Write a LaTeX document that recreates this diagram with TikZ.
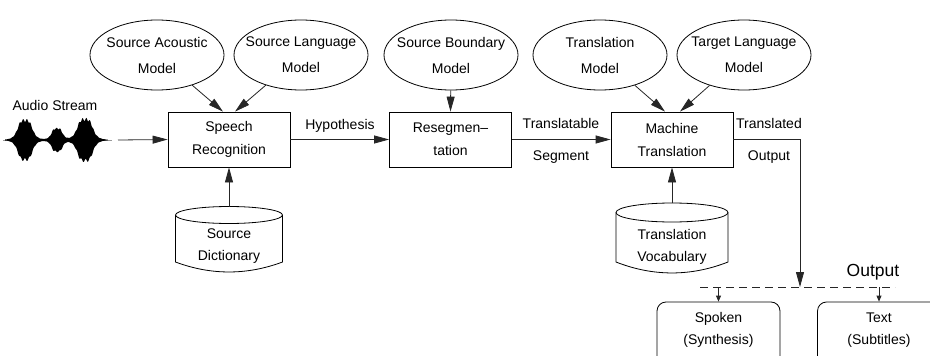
\documentclass[tikz,border=0pt]{standalone}
\usepackage{fontspec}
\setmainfont{Liberation Sans}
\usetikzlibrary{shapes.geometric,arrows.meta,calc}
\begin{document}
\begin{tikzpicture}[x=1pt,y=-1pt,line width=0.8pt,
  model/.style={draw,ellipse,minimum width=134pt,minimum height=70pt,inner sep=0pt},
  mlabel/.style={align=center,font=\fontsize{14}{26}\selectfont,inner sep=0pt},
  proc/.style={draw,rectangle,minimum width=122pt,minimum height=55pt,inner sep=0pt,align=center,font=\fontsize{14}{23}\selectfont},
  cyltext/.style={align=center,font=\fontsize{14}{22}\selectfont,inner sep=0pt},
  lbl/.style={align=center,font=\fontsize{14}{32}\selectfont,inner sep=0pt},
  outbox/.style={draw,rectangle,rounded corners=9pt,minimum width=123pt,minimum height=72pt,inner sep=0pt},
  flow/.style={draw=black!85,-{Triangle[length=15pt,width=8pt]}},
  smallflow/.style={draw=black!85,-{Triangle[length=6pt,width=5pt]}},
  dashline/.style={draw=black!85,dash pattern=on 8pt off 5pt},
  declare function={env(\t)=21/(1+((\t-25)/8)^4)+12/(1+((\t-57)/6)^4)+22/(1+((\t-85)/8.5)^4);}
]
\useasboundingbox (0,0) rectangle (930,356);

% models (ellipses)
\node[model,label={[mlabel]center:{Source Acoustic\\Model}}] (sam) at (157,55) {};
\node[model,label={[mlabel]center:{Source Language\\Model}}] (slm) at (301,55) {};
\node[model,label={[mlabel]center:{Source Boundary\\Model}}] (sbm) at (451,55) {};
\node[model,label={[mlabel]center:{Translation\\Model}}] (tm) at (600,55) {};
\node[model,label={[mlabel]center:{Target Language\\Model}}] (tlm) at (744,55) {};

% processing boxes
\node[proc] (sr) at (229,139.5) {Speech\\Recognition};
\node[proc] (rs) at (450.5,139.5) {Resegmen--\\tation};
\node[proc] (mt) at (672,139.5) {Machine\\Translation};

% cylinders
\draw (175.5,215) -- (175.5,262) .. controls (211,275.3) and (247,275.3) .. (282.5,262) -- (282.5,215);
\draw (229,215) ellipse [x radius=53.5pt,y radius=8.5pt];
\node[cyltext] (sd) at (229,246.5) {Source\\Dictionary};
\coordinate (sdtop) at (229,206.5);

\draw (616,212.5) -- (616,262) .. controls (653,276.6) and (691,276.6) .. (728,262) -- (728,212.5);
\draw (672,212.5) ellipse [x radius=56pt,y radius=9.5pt];
\node[cyltext] (tv) at (672,246.5) {Translation\\Vocabulary};
\coordinate (tvtop) at (672,203);

% audio stream
\node[font=\fontsize{14}{16}\selectfont,inner sep=0pt] (audiolbl) at (55,105) {Audio Stream};
\draw[black!40,line width=1pt] (3,140) -- (112,140);
\fill[black] plot[domain=5:108,samples=200] (\x,{140-env(\x)*(0.93+0.07*sin(97*\x))})
  -- plot[domain=108:5,samples=200] (\x,{140+env(\x)*(0.93+0.07*sin(83*\x))}) -- cycle;
\coordinate (audio) at (118,140);

% connectors
\draw[flow] (audio) -- (sr.west);
\draw[flow] (sam) -- ($(sr.north)+(-6,0)$);
\draw[flow] (slm) -- ($(sr.north)+(6,0)$);
\draw[flow] (sdtop) -- (sr.south);
\draw[flow] (sr.east) -- (rs.west);
\draw[flow] (sbm) -- (rs.north);
\draw[flow] (rs.east) -- (mt.west);
\draw[flow] (tm) -- ($(mt.north)+(-7,0)$);
\draw[flow] (tlm) -- ($(mt.north)+(8,0)$);
\draw[flow] (tvtop) -- (mt.south);

% connector labels
\node[lbl] (hyp) at (340,126) {Hypothesis};
\node[lbl] (tseg) at (561,141) {Translatable\\Segment};
\node[lbl] (tout) at (769,141) {Translated\\Output};

% output
\coordinate (dl) at (700,287);
\coordinate (dr) at (895,287);
\coordinate (oj) at (800,287);
\draw[flow] (mt.east) -- (800,139.5) -- (oj);
\draw[dashline] (dl) -- (dr);
\node[font=\fontsize{17.5}{20}\selectfont,inner sep=0pt] (outlbl) at (873,272) {Output};

\node[outbox,label={[cyltext,yshift=8pt]center:{Spoken\\(Synthesis)}}] (spk) at (718.5,338) {};
\node[outbox,label={[cyltext,yshift=8pt]center:{Text\\(Subtitles)}}] (txt) at (879,338) {};
\draw[smallflow] (spk.north |- dl) -- (spk.north);
\draw[smallflow] (txt.north |- dl) -- (txt.north);
\end{tikzpicture}
\end{document}
